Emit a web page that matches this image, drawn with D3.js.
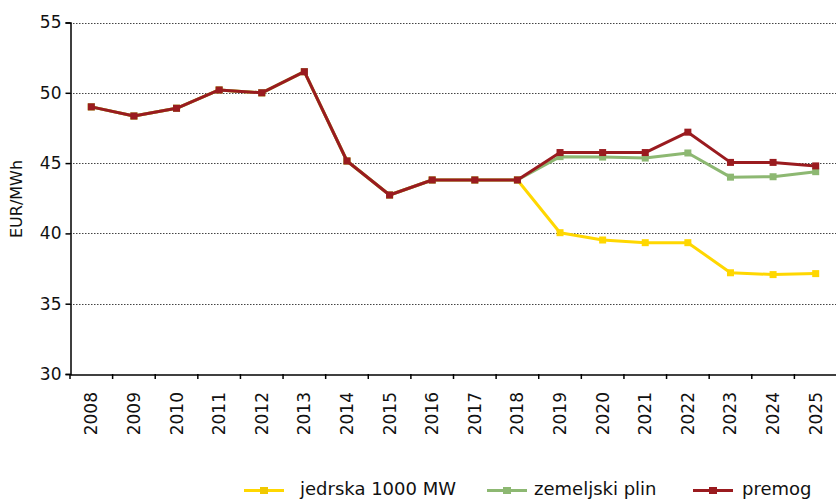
<!DOCTYPE html>
<html><head><meta charset="utf-8">
<script src="https://cdn.jsdelivr.net/npm/d3@7/dist/d3.min.js"></script>
<style>body{margin:0;background:#fff}svg{display:block}text{font-family:"DejaVu Sans",sans-serif}</style>
</head><body><svg id="c" width="836" height="499"></svg>
<script>
const years = ["2008","2009","2010","2011","2012","2013","2014","2015","2016","2017","2018","2019","2020","2021","2022","2023","2024","2025"];
const jedrska = [49.0,48.35,48.9,50.2,50.0,51.5,45.15,42.73,43.8,43.8,43.8,40.05,39.53,39.34,39.34,37.2,37.07,37.14];
const plin    = [49.0,48.35,48.9,50.2,50.0,51.5,45.15,42.73,43.8,43.8,43.8,45.46,45.43,45.36,45.72,44.0,44.03,44.39];
const premog  = [49.0,48.35,48.9,50.2,50.0,51.5,45.15,42.73,43.8,43.8,43.8,45.75,45.75,45.75,47.2,45.05,45.05,44.8];
const seriesNames = ["jedrska 1000 MW","zemeljski plin","premog"];
const yTicks = [30,35,40,45,50,55];

const svg = d3.select("#c");
const L = 70, R = 837, T = 22.5, B = 374;
const x = d3.scaleBand().domain(years).range([L, R]);
const y = d3.scaleLinear().domain([30,55]).range([B, T]);

// gridlines
svg.append("g").selectAll("line").data(yTicks.filter(d=>d>30)).join("line")
  .attr("x1", L).attr("x2", R).attr("y1", d=>Math.round(y(d))+0.5).attr("y2", d=>Math.round(y(d))+0.5)
  .attr("stroke", "#444").attr("stroke-width", 1).attr("stroke-dasharray", "1.5,1.5");

// y axis
const ya = svg.append("g").attr("transform", `translate(${L+0.5},0)`)
  .call(d3.axisLeft(y).tickValues(yTicks).tickSize(5).tickPadding(4));
ya.select(".domain").attr("stroke", "#000").attr("stroke-width", 1.5);
ya.selectAll(".tick line").attr("stroke", "#000").attr("stroke-width", 1.5);
ya.selectAll("text").attr("font-size", 17).attr("fill", "#111").attr("font-family","DejaVu Sans");

// x axis
const xa = svg.append("g").attr("transform", `translate(0,${B+0.5})`)
  .call(d3.axisBottom(x).tickSize(0).tickFormat(""));
xa.select(".domain").attr("stroke", "#000").attr("stroke-width", 1.5);
svg.append("g").selectAll("line").data(years).join("line")
  .attr("x1", d=>x(d)).attr("x2", d=>x(d)).attr("y1", B).attr("y2", B+5)
  .attr("stroke", "#000").attr("stroke-width", 1.5);
svg.append("g").selectAll("text").data(years).join("text")
  .attr("transform", d=>`translate(${x(d)+x.bandwidth()/2+6},392) rotate(-90)`)
  .attr("text-anchor", "end").attr("font-size", 17).attr("fill", "#111").text(d=>d);

// y title
svg.append("text").attr("transform", "translate(22,199) rotate(-90)")
  .attr("text-anchor", "middle").attr("font-size", 16).attr("fill", "#111").text("EUR/MWh");

const colors = ["#FFD700","#8DB872","#9A1B1F"];
const data = [jedrska, plin, premog];
const line = d3.line().x((d,i)=>x(years[i])+x.bandwidth()/2).y(d=>y(d));
data.forEach((vals, k) => {
  const g = svg.append("g");
  g.append("path").attr("d", line(vals)).attr("fill","none").attr("stroke", colors[k])
    .attr("stroke-width", 3).attr("stroke-linejoin","round");
  g.selectAll("rect").data(vals).join("rect")
    .attr("x", (d,i)=>x(years[i])+x.bandwidth()/2-3.5).attr("y", d=>y(d)-3.5)
    .attr("width", 7).attr("height", 7).attr("fill", colors[k]);
});

// legend
const legX = [244, 487, 693];
const legTX = [300, 534, 742];
const lg = svg.append("g");
seriesNames.forEach((n,k)=>{
  lg.append("line").attr("x1", legX[k]).attr("x2", legX[k]+40).attr("y1", 490.5).attr("y2", 490.5)
    .attr("stroke", colors[k]).attr("stroke-width", 3);
  lg.append("rect").attr("x", legX[k]+20-4).attr("y", 487).attr("width", 8).attr("height", 7)
    .attr("fill", k===0 ? "#F0C800" : colors[k]);
  lg.append("text").attr("x", legTX[k]).attr("y", 495).attr("font-size", 18).attr("fill","#111").text(n);
});
</script></body></html>
